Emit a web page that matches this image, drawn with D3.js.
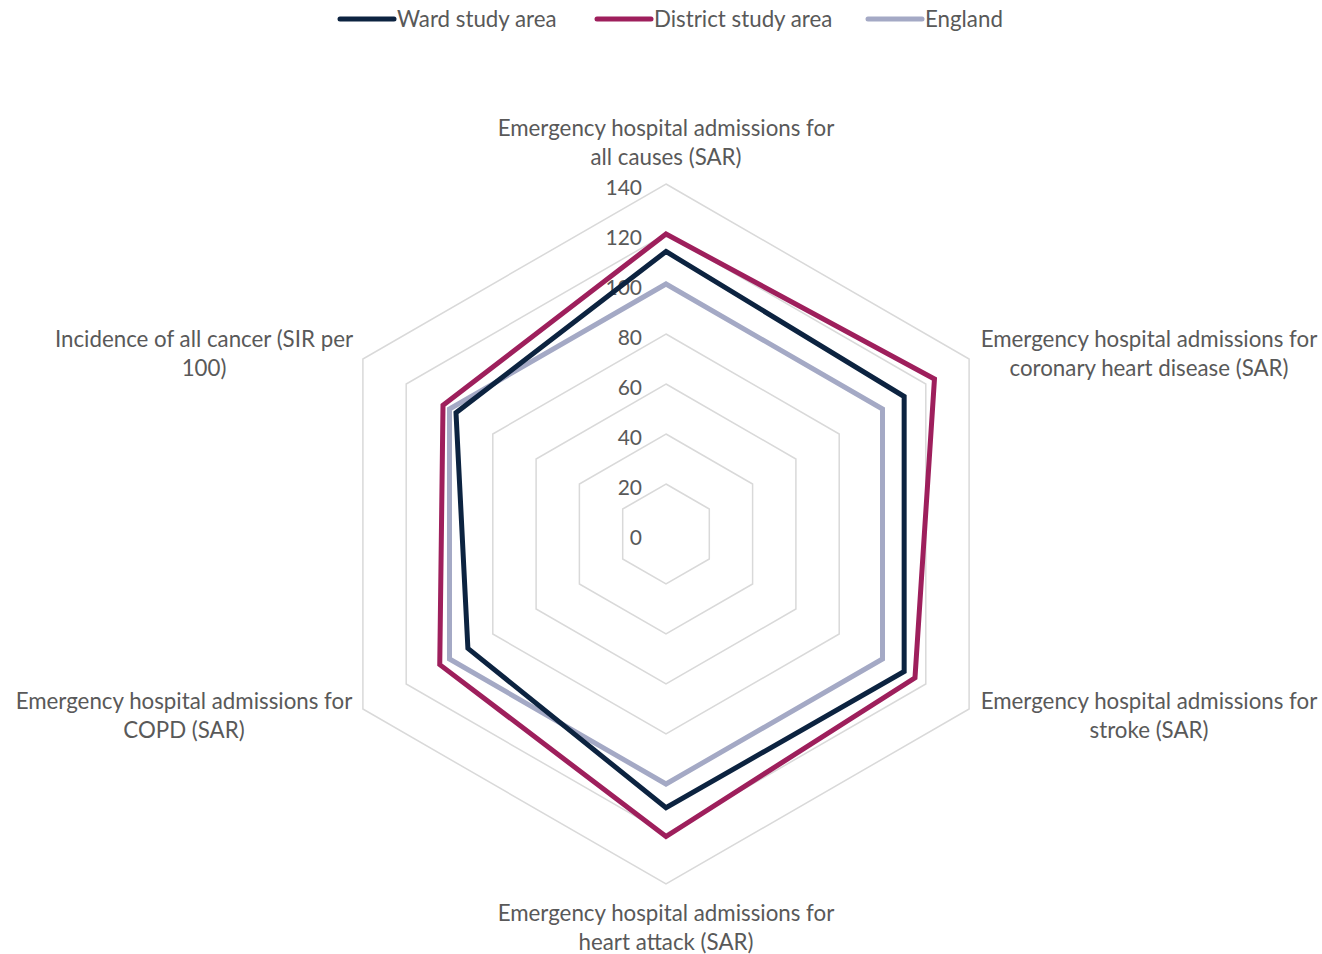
<!DOCTYPE html>
<html>
<head>
<meta charset="utf-8">
<script src="https://cdn.jsdelivr.net/npm/d3@7"></script>
<style>
html,body{margin:0;padding:0;background:#fff;}
svg{display:block;font-family:Lato,"Open Sans",sans-serif;}
</style>
</head>
<body>
<svg id="chart" width="1322" height="954"></svg>
<script>
const categories = [
  ["Emergency hospital admissions for", "all causes (SAR)"],
  ["Emergency hospital admissions for", "coronary heart disease (SAR)"],
  ["Emergency hospital admissions for", "stroke (SAR)"],
  ["Emergency hospital admissions for", "heart attack (SAR)"],
  ["Emergency hospital admissions for", "COPD (SAR)"],
  ["Incidence of all cancer (SIR per", "100)"]
];
const seriesNames = ["Ward study area", "District study area", "England"];
const wardValues = [113, 110, 110, 109.5, 91.5, 97];
const districtValues = [120, 124, 115, 121, 104.5, 103];
const englandValues = [100, 100, 100, 100, 100, 100];
const tickValues = [0, 20, 40, 60, 80, 100, 120, 140];
const colors = ["#0c2340", "#9e1f5c", "#a4a9c5"];

const svg = d3.select("#chart");
const cx = 666, cy = 534, R = 350;
const r = d3.scaleLinear().domain([0, 140]).range([0, R]);
const n = categories.length;
const angle = i => i * 2 * Math.PI / n;
const pt = (i, v) => [cx + r(v) * Math.sin(angle(i)), cy - r(v) * Math.cos(angle(i))];

// grid rings
const ringLine = d3.line();
tickValues.filter(t => t > 0).forEach(t => {
  const pts = d3.range(n).map(i => pt(i, t));
  svg.append("path").attr("d", ringLine(pts) + "Z")
    .attr("fill", "none").attr("stroke", "#d9d9d9").attr("stroke-width", 1.5);
});

// tick labels
svg.append("g").selectAll("text").data(tickValues).join("text")
  .attr("x", cx - 24).attr("y", d => cy - r(d) + 2)
  .attr("text-anchor", "end").attr("dominant-baseline", "central")
  .attr("font-size", 21).attr("fill", "#595959").text(d => d);

// series
const seriesData = [wardValues, districtValues, englandValues];
const drawOrder = [2, 0, 1];
drawOrder.forEach(k => {
  const pts = seriesData[k].map((v, i) => pt(i, v));
  svg.append("path").attr("d", ringLine(pts) + "Z")
    .attr("fill", "none").attr("stroke", colors[k]).attr("stroke-width", 5)
    .attr("stroke-linejoin", "miter");
});

// category labels
const labelPos = [
  [666, 127], [1149, 338], [1149, 700], [666, 912], [184, 700], [204, 338]
];
categories.forEach((lines, i) => {
  const t = svg.append("text").attr("text-anchor", "middle")
    .attr("font-size", 22.3).attr("fill", "#595959");
  lines.forEach((l, j) => {
    t.append("tspan").attr("x", labelPos[i][0]).attr("y", labelPos[i][1] + j * 29.5)
      .attr("dominant-baseline", "central").text(l);
  });
});

// legend
const legendX = [340, 597, 868];
seriesNames.forEach((s, k) => {
  const g = svg.append("g");
  g.append("line").attr("x1", legendX[k]).attr("x2", legendX[k] + 54)
    .attr("y1", 19).attr("y2", 19).attr("stroke", colors[k])
    .attr("stroke-width", 5).attr("stroke-linecap", "round");
  g.append("text").attr("x", legendX[k] + 57).attr("y", 18)
    .attr("dominant-baseline", "central").attr("font-size", 22.3)
    .attr("fill", "#595959").text(s);
});
</script>
</body>
</html>
